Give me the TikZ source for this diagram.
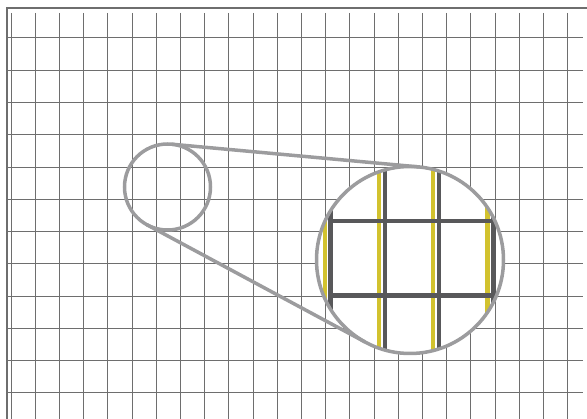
\documentclass[tikz,border=0pt]{standalone}
\usepackage{xcolor}
\usepackage{tikz}
\definecolor{gridgray}{HTML}{6E6E6E}
\definecolor{lensgray}{HTML}{9C9C9E}
\definecolor{darkline}{HTML}{58585A}
\definecolor{cbyellow}{HTML}{D2C22E}

\begin{document}
\begin{tikzpicture}[x=1pt, y=-1pt, line width=1pt]
  \useasboundingbox (0,0) rectangle (587,419);
  \foreach \i in {0,1,...,23}{\draw[gridgray] ({11+24.2*\i},13) -- ({11+24.2*\i},419);}
  \foreach \j in {0,1,...,11}{\draw[gridgray] (7,{38+32.27*\j}) -- (583,{38+32.27*\j});}
  \draw[gridgray, line width=1.4pt] (587,8) -- (7,8) -- (7,419);
  \node[circle, draw=lensgray, line width=3.5pt, minimum size=86pt, inner sep=0pt, outer sep=0pt] (small) at (167.5,187) {};
  \node[circle, fill=white, minimum size=187pt, inner sep=0pt, outer sep=0pt] (big) at (410,260) {};
  \begin{scope}
    \clip (big) circle[radius=93.5];
    \foreach \x in {330.5,384.8,439.1,493.4}{
      \draw[cbyellow, line width=4.3pt] (\x-5.8,150) -- (\x-5.8,370);
      \draw[darkline, line width=4.3pt] (\x,150) -- (\x,370);}
    \foreach \y in {221,295.5}{\draw[darkline, line width=4.3pt] (328.4,\y) -- (495.5,\y);}
  \end{scope}
  \draw[lensgray, line width=3.5pt] (big) circle[radius=93.5];
  \draw[lensgray, line width=3.5pt] (small.84.75) -- (big.84.75);
  \draw[lensgray, line width=3.5pt] (small.241.75) -- (big.241.75);
\end{tikzpicture}
\end{document}
